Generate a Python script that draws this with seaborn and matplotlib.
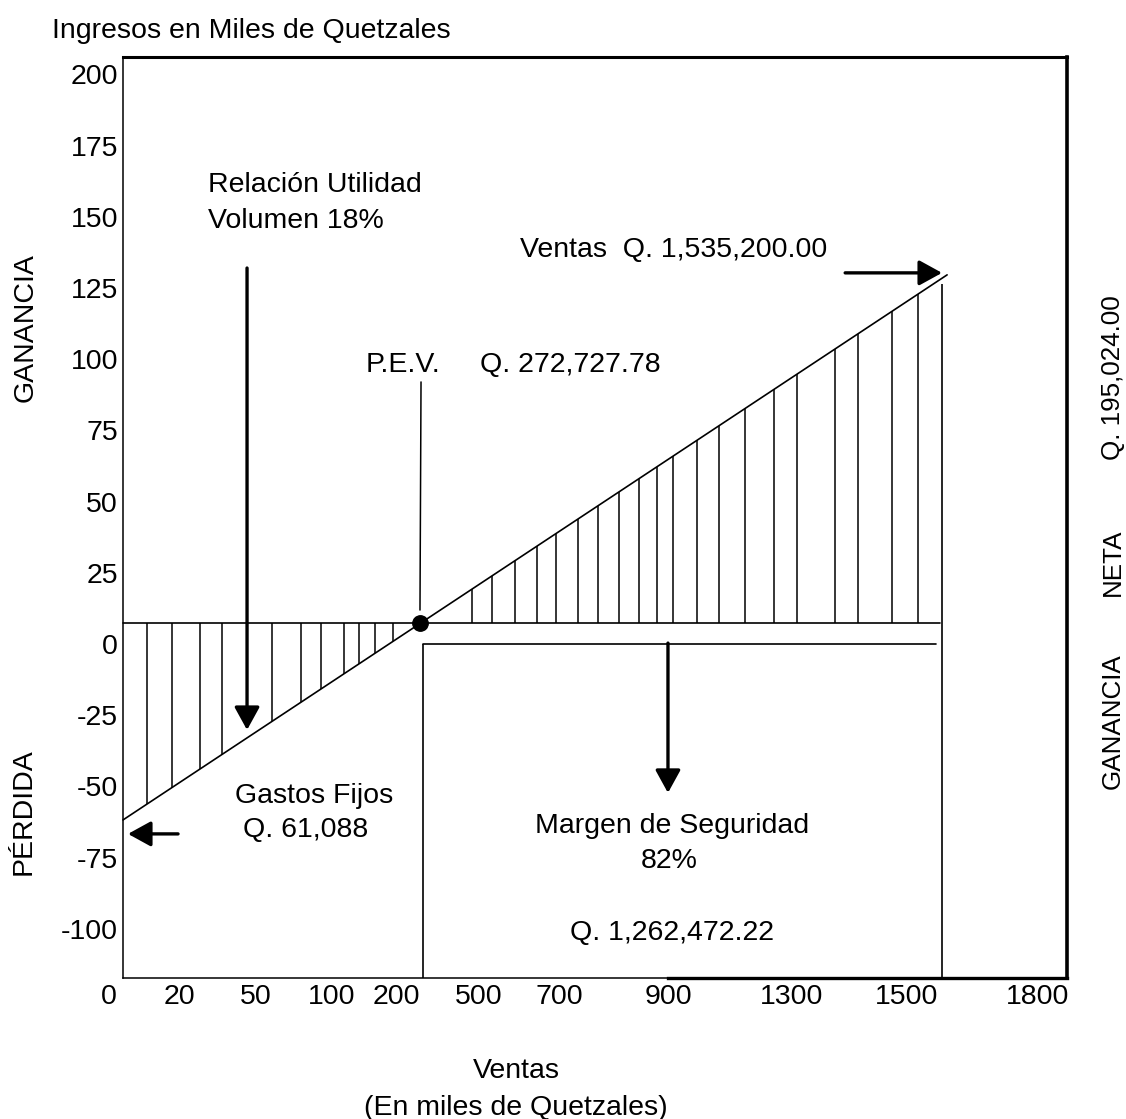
import numpy as np
import pandas as pd
import matplotlib
matplotlib.use("Agg")
import matplotlib.pyplot as plt
import seaborn as sns

# ---------------- data ----------------
# x axis is a schematic (non-linear) sales scale: positions 0..100 across the box
x_tick_pos = [-1.48, 5.93, 14.09, 22.14, 28.92, 37.71, 46.19, 57.73, 70.87, 83.05, 96.93]
x_tick_labels = ["0", "20", "50", "100", "200", "500", "700", "900", "1300", "1500", "1800"]
y_ticks = [200, 175, 150, 125, 100, 75, 50, 25, 0, -25, -50, -75, -100]

sales_line_x = [0.0, 87.3]          # start / end of the sales-profit line
sales_line_y = [-61.8, 129.6]       # gastos fijos ... ventas
pev_level = 7.4                     # break-even horizontal level
pev_x = 31.5                        # break-even point position
margin_x = [31.8, 86.1]             # margen de seguridad bracket
margin_y = 0.0
right_x = 86.76                     # vertical line at total sales

loss_hatch_x = [2.54, 5.19, 8.16, 10.49, 15.78, 18.86, 20.97, 23.41, 25.0, 26.69, 28.6]
gain_hatch_x = [36.97, 39.09, 41.53, 43.86, 45.87, 48.2, 50.32, 52.54, 54.66, 56.57,
                58.26, 60.81, 63.14, 65.89, 68.96, 71.4, 75.42, 77.86, 81.46, 84.22]

# arrows: (x_start, y_start, x_end, y_end)
arrow_relacion = (13.14, 132.0, 13.14, -30.2)
arrow_gastos = (5.83, -66.7, 0.53, -66.7)
arrow_ventas = (76.5, 130.3, 86.76, 130.3)
arrow_margen = (57.73, 0.3, 57.73, -52.3)
pev_leader = ([31.57, 31.46], [92.0, 11.9])

# ---------------- figure ----------------
sns.set_theme(style="white")
k = "black"
plt.rcParams["font.family"] = ["Liberation Sans", "DejaVu Sans"]
plt.rcParams.update({"text.color": k, "axes.labelcolor": k,
                     "xtick.color": k, "ytick.color": k, "axes.edgecolor": k})

W, H = 1126, 1119
fig = plt.figure(figsize=(W / 100, H / 100), dpi=100)
xmin, xmax = -1.6, 100.0
ymin, ymax = -117.3, 206.1
left_px = 123 + xmin * 9.44
ax = fig.add_axes([left_px / W, 1 - 978 / H, (1067 - left_px) / W, (978 - 57) / H])
ax.set_xlim(xmin, xmax)
ax.set_ylim(ymin, ymax)

FS = 20.5

# sales line
df = pd.DataFrame({"x": sales_line_x, "y": sales_line_y})
sns.lineplot(data=df, x="x", y="y", color=k, lw=1.2, ax=ax)

# break-even horizontal level
ax.plot([0, 86.5], [pev_level, pev_level], color=k, lw=1.2)

# hatching
loss_top = np.interp(loss_hatch_x, sales_line_x, sales_line_y)
ax.vlines(loss_hatch_x, loss_top, pev_level, color=k, lw=1.1)
gain_top = np.interp(gain_hatch_x, sales_line_x, sales_line_y)
ax.vlines(gain_hatch_x, pev_level, gain_top, color=k, lw=1.1)

# margin bracket
ax.plot(margin_x, [margin_y, margin_y], color=k, lw=1.2)
ax.vlines([margin_x[0]], ymin, margin_y, color=k, lw=1.2)
ax.vlines([right_x], ymin, np.interp(right_x, sales_line_x, sales_line_y) - 2, color=k, lw=1.2)

# P.E.V. leader + dot
ax.plot(pev_leader[0], pev_leader[1], color=k, lw=1.1)
sns.scatterplot(x=[pev_x], y=[pev_level], s=125, color=k, edgecolor=k, ax=ax, zorder=6)

def arrow(a, lw=2.4):
    ax.annotate("", xy=(a[2], a[3]), xytext=(a[0], a[1]),
                arrowprops=dict(arrowstyle="-|>,head_length=1.0,head_width=0.55",
                                mutation_scale=14, lw=lw, color=k,
                                shrinkA=0, shrinkB=0))

for a in (arrow_relacion, arrow_gastos, arrow_ventas, arrow_margen):
    arrow(a)

# in-plot texts
ax.text(9.0, 162.2, "Relación Utilidad", fontsize=FS, ha="left", va="center_baseline")
ax.text(9.0, 149.6, "Volumen 18%", fontsize=FS, ha="left", va="center_baseline")
ax.text(25.74, 99.0, "P.E.V.", fontsize=FS, ha="left", va="center_baseline")
ax.text(37.82, 99.0, "Q. 272,727.78", fontsize=FS, ha="left", va="center_baseline")
ax.text(42.06, 139.4, "Ventas  Q. 1,535,200.00", fontsize=FS, ha="left", va="center_baseline")
ax.text(11.86, -52.3, "Gastos Fijos", fontsize=FS, ha="left", va="center_baseline")
ax.text(12.71, -64.3, "Q. 61,088", fontsize=FS, ha="left", va="center_baseline")
ax.text(58.16, -62.8, "Margen de Seguridad", fontsize=FS, ha="center", va="center_baseline")
ax.text(57.84, -75.1, "82%", fontsize=FS, ha="center", va="center_baseline")
ax.text(58.16, -100.4, "Q. 1,262,472.22", fontsize=FS, ha="center", va="center_baseline")

# axes styling
ax.set_xticks(x_tick_pos)
ax.set_xticklabels(x_tick_labels)
ax.set_yticks(y_ticks)
ax.set_yticklabels([str(v) for v in y_ticks])
ax.tick_params(axis="both", length=0, labelsize=FS, colors=k)
ax.tick_params(axis="x", pad=4.5)
ax.tick_params(axis="y", pad=3.6)
ax.set_xlabel("")
ax.set_ylabel("")
ax.grid(False)

ax.spines["left"].set_position(("data", 0))
ax.spines["top"].set_bounds(0, xmax)
ax.spines["bottom"].set_bounds(0, xmax)
for s, lw in (("left", 1.1), ("bottom", 1.1), ("top", 2.2), ("right", 2.6)):
    ax.spines[s].set_color(k)
    ax.spines[s].set_linewidth(lw)
    ax.spines[s].set_visible(True)
# thicker right part of the bottom border
ax.plot([57.73, xmax], [0, 0], transform=ax.get_xaxis_transform(), color=k,
        lw=2.4, clip_on=False, solid_capstyle="projecting")

def ftext(px, py, s, **kw):
    fig.text(px / W, 1 - py / H, s, color=k, **kw)

ftext(52, 28, "Ingresos en Miles de Quetzales", fontsize=FS, ha="left", va="center_baseline")
ftext(26, 328, "GANANCIA", fontsize=FS, rotation=90, ha="center", va="center")
ftext(24, 812, "PÉRDIDA", fontsize=FS, rotation=90, ha="center", va="center")
ftext(1113, 378, "Q. 195,024.00", fontsize=18.7, rotation=90, ha="center", va="center")
ftext(1113, 562, "NETA", fontsize=18.7, rotation=90, ha="center", va="center")
ftext(1113, 721, "GANANCIA", fontsize=18.7, rotation=90, ha="center", va="center")
ftext(516, 1068, "Ventas", fontsize=FS, ha="center", va="center_baseline")
ftext(516, 1105, "(En miles de Quetzales)", fontsize=FS, ha="center", va="center_baseline")

fig.savefig("out.png", dpi=100, facecolor="white")
